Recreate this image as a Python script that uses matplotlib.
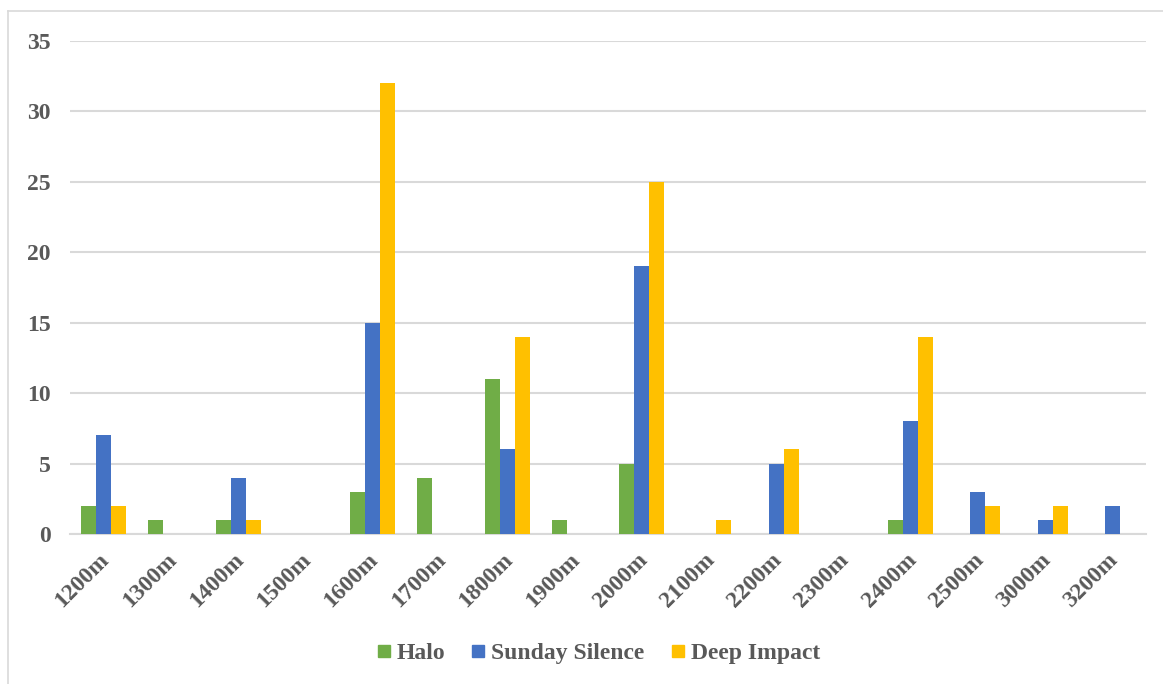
import matplotlib
matplotlib.use("Agg")
import matplotlib.pyplot as plt
import matplotlib.transforms as mtransforms
import numpy as np
from matplotlib.lines import Line2D

categories = ["1200m", "1300m", "1400m", "1500m", "1600m", "1700m", "1800m", "1900m",
              "2000m", "2100m", "2200m", "2300m", "2400m", "2500m", "3000m", "3200m"]
halo = [2, 1, 1, 0, 3, 4, 11, 1, 5, 0, 0, 0, 1, 0, 0, 0]
sunday_silence = [7, 0, 4, 0, 15, 0, 6, 0, 19, 0, 5, 0, 8, 3, 1, 2]
deep_impact = [2, 0, 1, 0, 32, 0, 14, 0, 25, 1, 6, 0, 14, 2, 2, 0]
series_names = ["Halo", "Sunday Silence", "Deep Impact"]
colors = ["#70AD47", "#4472C4", "#FFC000"]
yticks = [0, 5, 10, 15, 20, 25, 30, 35]

txt = "#595959"
grid = "#D9D9D9"
font = "Liberation Serif"
fs = 17

fig = plt.figure(figsize=(11.63, 6.84), dpi=100)
ax = fig.add_axes([70/1163, 1-534/684, (1146-70)/1163, (534-41)/684])

x = np.arange(len(categories))
w = 0.223
for i, (vals, c) in enumerate(zip([halo, sunday_silence, deep_impact], colors)):
    ax.bar(x + (i-1)*w, vals, width=w, color=c, zorder=3, label=series_names[i])

ax.set_xlim(-0.5, len(categories)-0.5)
ax.set_ylim(0, 35)
ax.set_yticks(yticks)
ax.set_yticklabels([str(t) for t in yticks], fontfamily=font, fontweight="bold",
                   fontsize=fs, color=txt)
ax.set_xticks(x)
ax.set_xticklabels(categories, fontfamily=font, fontweight="bold", fontsize=fs,
                   color=txt, rotation=45, ha="right", va="top", rotation_mode="anchor")
ax.tick_params(axis="both", length=0)
ax.tick_params(axis="y", pad=14)
ax.tick_params(axis="x", pad=11)
shift = mtransforms.ScaledTranslation(-5/100, 0, fig.dpi_scale_trans)
for lab in ax.get_xticklabels():
    lab.set_transform(lab.get_transform() + shift)
ax.grid(axis="y", color=grid, linewidth=1.5, zorder=0)
for s in ["top", "right", "left"]:
    ax.spines[s].set_visible(False)
ax.spines["bottom"].set_color(grid)
ax.spines["bottom"].set_linewidth(1.5)

handles = [Line2D([], [], marker="s", linestyle="none", markersize=8.5,
                  markerfacecolor=c, markeredgecolor=c) for c in colors]
leg = fig.legend(handles, series_names, loc="center", bbox_to_anchor=(596/1163, 1-653/684),
                 ncol=3, frameon=False, handletextpad=0.05, columnspacing=0.9,
                 handlelength=1.0,
                 prop={"family": font, "weight": "bold", "size": fs})
for t in leg.get_texts():
    t.set_color(txt)

# outer chart border (top and left visible)
fig.add_artist(Line2D([8/1163, 1], [1-11/684, 1-11/684], color=grid, linewidth=1.2,
                      transform=fig.transFigure))
fig.add_artist(Line2D([8/1163, 8/1163], [0, 1-11/684], color=grid, linewidth=1.2,
                      transform=fig.transFigure))

fig.savefig("out.png", dpi=100)
